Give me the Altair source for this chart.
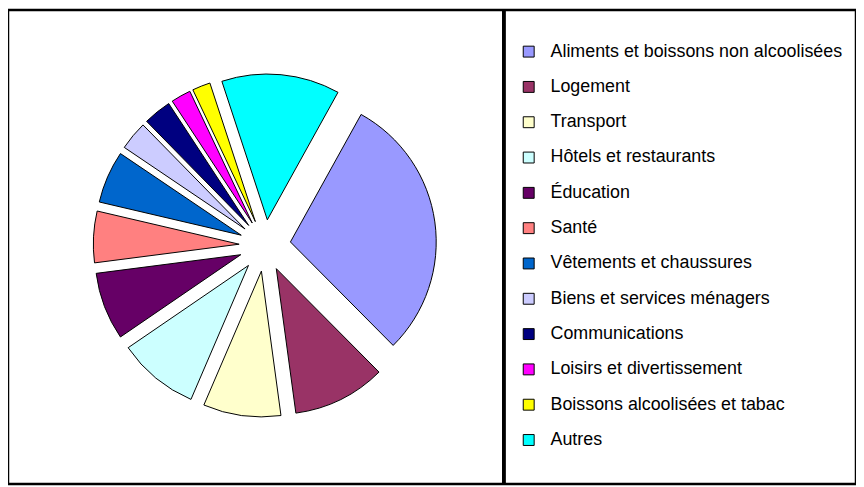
import math
import altair as alt
import pandas as pd

categories = [
    "Aliments et boissons non alcoolisées",
    "Logement",
    "Transport",
    "Hôtels et restaurants",
    "Éducation",
    "Santé",
    "Vêtements et chaussures",
    "Biens et services ménagers",
    "Communications",
    "Loisirs et divertissement",
    "Boissons alcoolisées et tabac",
    "Autres",
]
values = [29.5, 10.3, 8.6, 9.0, 7.5, 5.7, 5.8, 3.2, 3.1, 2.2, 2.0, 13.1]
colors = [
    "#9999FF", "#993366", "#FFFFCC", "#CCFFFF", "#660066", "#FF8080",
    "#0066CC", "#CCCCFF", "#000080", "#FF00FF", "#FFFF00", "#00FFFF",
]

df = pd.DataFrame({"cat": categories, "value": values, "idx": list(range(len(categories)))})

START = math.radians(29)
CX, CY, R, D = 259, 237.5, 147, 26
W, H = 855, 478
TOTAL = sum(values)

pie = (
    alt.Chart(df)
    .transform_joinaggregate(total="sum(value)")
    .transform_window(cum="sum(value)", sort=[alt.SortField("idx")], frame=[None, 0])
    .transform_calculate(
        t0="datum.cum - datum.value",
        mid=f"{START} + 2*PI*(datum.cum - datum.value/2)/datum.total",
    )
    .transform_calculate(
        px=f"{CX} + {D}*sin(datum.mid)",
        py=f"{CY} - {D}*cos(datum.mid)",
    )
    .mark_arc(radius=R, stroke="black", strokeWidth=1)
    .encode(
        theta=alt.Theta(
            "t0:Q",
            scale=alt.Scale(domain=[0, TOTAL], range=[START, START + 2 * math.pi], nice=False, zero=True),
            stack=None,
        ),
        theta2=alt.Theta2("cum:Q"),
        x=alt.X("px:Q", scale=None, stack=None),
        y=alt.Y("py:Q", scale=None, stack=None),
        color=alt.Color(
            "cat:N",
            scale=alt.Scale(domain=categories, range=colors),
            legend=alt.Legend(
                title=None,
                orient="none",
                legendX=516,
                legendY=33,
                symbolType="square",
                symbolSize=121,
                symbolStrokeColor="black",
                symbolStrokeWidth=1,
                symbolOpacity=1,
                labelFont="Liberation Sans",
                labelFontSize=18,
                labelColor="black",
                labelOffset=13,
                labelLimit=400,
                rowPadding=17.6,
                padding=0,
            ),
        ),
    )
)

divider = alt.Chart(df).mark_rule(color="black", strokeWidth=2.5).encode(
    x=alt.value(500), y=alt.value(0), y2=alt.value(H)
)

chart = (
    alt.layer(pie, divider)
    .properties(width=W, height=H, autosize=alt.AutoSizeParams(type="none"), padding=0)
    .configure_view(stroke="black", strokeWidth=2.5, fill="white")
)

chart.save("out.html", embed_options={"renderer": "svg", "actions": False})
